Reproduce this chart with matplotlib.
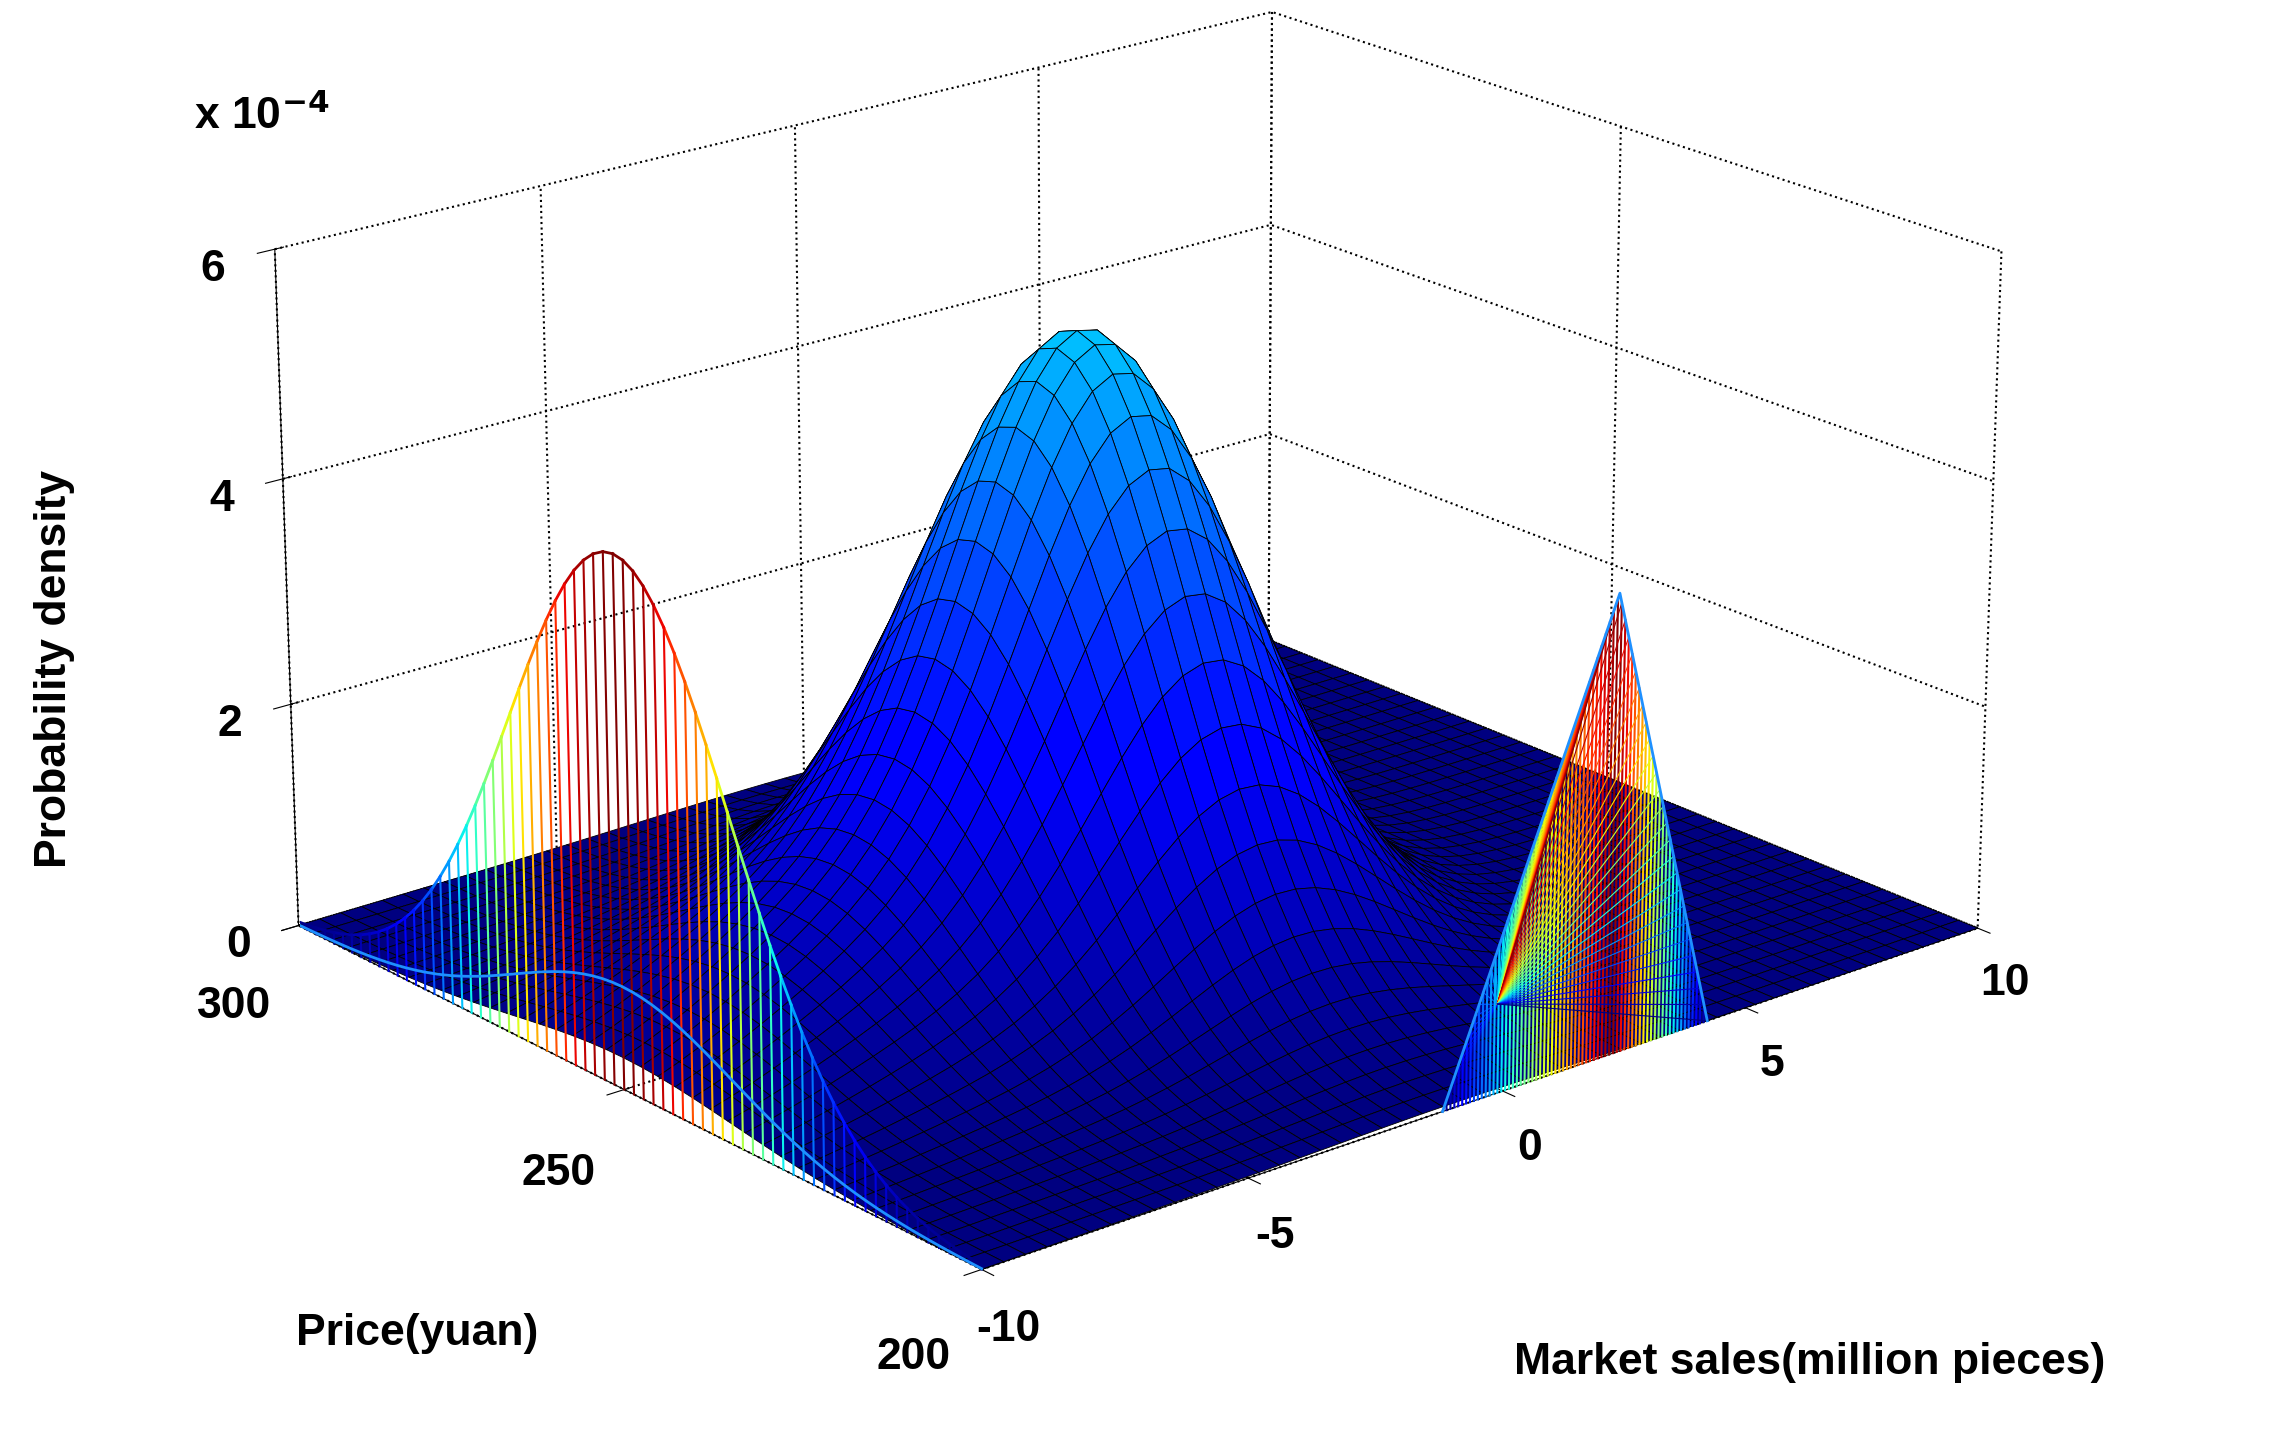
import numpy as np
import matplotlib
matplotlib.use("Agg")
import matplotlib.pyplot as plt
from matplotlib import cm
from matplotlib.colors import Normalize

plt.rcParams['font.family'] = ['Liberation Sans', 'DejaVu Sans']
plt.rcParams['font.weight'] = 'bold'
plt.rcParams['axes.unicode_minus'] = False

# axis ranges / ticks
sales_ticks = [-10, -5, 0, 5, 10]
price_ticks = [200, 250, 300]
z_ticks = [0, 2, 4, 6]
# surface components: (sales centre, price centre, sales sd, price sd, peak x1e-4)
comp_sales = [-1.0, -6.0]
comp_price = [250.0, 250.0]
comp_ssd = [2.3, 2.6]
comp_psd = [16.0, 16.0]
comp_peak = [5.3, 0.9]
# marginal price curve on the sales=-10 wall
wall_peak = 4.6
wall_low_peak = 0.9
# triangle distribution on the price=200 wall
tri_sales = [-1.2, 2.2, 4.2]
tri_dens = [0.0, 4.0, 0.0]

sx = np.linspace(-10, 10, 51)
py = np.linspace(200, 300, 41)
X, Y = np.meshgrid(sx, py)
Z = np.zeros_like(X)
for c, p, s1, s2, h in zip(comp_sales, comp_price, comp_ssd, comp_psd, comp_peak):
    Z += h * np.exp(-0.5 * ((X - c) / s1) ** 2 - 0.5 * ((Y - p) / s2) ** 2)

fig = plt.figure(figsize=(22.77, 14.31), dpi=100)
ax = fig.add_axes([-0.07, 0.0, 1.12, 1.14], projection='3d')
ax.view_init(elev=20, azim=-130)

norm = Normalize(0, 17)
surf = ax.plot_surface(X, Y, Z, facecolors=cm.jet(norm(Z)), edgecolor='k', linewidth=0.6,
                       rstride=1, cstride=1, shade=False, antialiased=True)
surf.set_clip_on(False)

# wall curve with stems
pw = np.linspace(200, 300, 71)
zw = wall_peak * np.exp(-0.5 * ((pw - 250) / 16.0) ** 2)
zl = wall_low_peak * np.exp(-0.5 * ((pw - 250) / 16.0) ** 2)
wn = Normalize(0, wall_peak)
for i in range(len(pw) - 1):
    ax.plot([-10, -10], [pw[i], pw[i + 1]], [zw[i], zw[i + 1]], color=cm.jet(wn(zw[i])), lw=2, zorder=10)
    ax.plot([-10, -10], [pw[i], pw[i]], [0, zw[i]], color=cm.jet(wn(zw[i])), lw=1.5, zorder=10)
ax.plot(np.full_like(pw, -10), pw, zl, color='#1e90ff', lw=2, zorder=11)

# triangle with stems
ts = np.linspace(tri_sales[0], tri_sales[2], 70)
tz = np.interp(ts, tri_sales, tri_dens)
tn = Normalize(0, max(tri_dens))
for s, z in zip(ts, tz):
    ax.plot([s, s], [200, 200], [0, z], color=cm.jet(tn(z)), lw=1.5, zorder=12)
    ax.plot([s, tri_sales[1]], [200, 215], [z, 0], color=cm.jet(tn(z)), lw=0.8, zorder=12)
ax.plot(tri_sales, [200] * 3, tri_dens, color='#1e90ff', lw=2, zorder=13)

ax.set_xlim(-10, 10)
ax.set_ylim(200, 300)
ax.set_zlim(0, 6)
ax.set_xticks(sales_ticks)
ax.set_yticks(price_ticks)
ax.set_zticks(z_ticks)
ax.tick_params(labelsize=32, pad=14)
ax.yaxis.set_tick_params(pad=30)
for a in (ax.xaxis, ax.yaxis, ax.zaxis):
    a.set_pane_color((1, 1, 1, 0))
    a._axinfo['grid'].update(color='k', linestyle=':', linewidth=1.5)
ax.set_box_aspect((1.3, 1.1, 0.72), zoom=1.1)
fig.text(0.665, 0.04, 'Market sales(million pieces)', fontsize=32, fontweight='bold')
fig.text(0.13, 0.06, 'Price(yuan)', fontsize=32, fontweight='bold')
fig.text(0.015, 0.40, 'Probability density', fontsize=32, fontweight='bold', rotation=90)
fig.text(0.085, 0.91, r'x 10$^{-4}$', fontsize=32, fontweight='bold')
fig.savefig('out.png', dpi=100)
